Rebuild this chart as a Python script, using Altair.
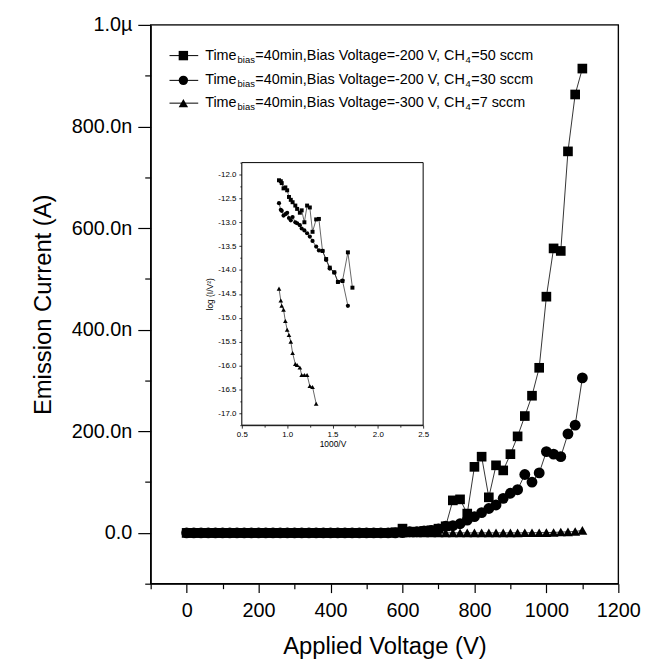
import altair as alt
import pandas as pd

# ---------------- data ----------------
voltage = [0, 20, 40, 60, 80, 100, 120, 140, 160, 180, 200, 220, 240, 260, 280,
           300, 320, 340, 360, 380, 400, 420, 440, 460, 480, 500, 520, 540, 560,
           580, 600, 620, 640, 660, 680, 700, 720, 740, 760, 780, 800, 820, 840,
           860, 880, 900, 920, 940, 960, 980, 1000, 1020, 1040, 1060, 1080, 1100]

# emission current in nA
current_50 = [0, 0, 0, 0, 0, 0, 0, 0, 0, 0, 0, 0, 0, 0, 0, 0, 0, 0, 0, 0, 0, 0, 0, 0, 0, 0, 0, 0, 0,
              1.4, 8.4, 2.3, 2.3, 3.9, 5.2, 8.3, 13, 64, 66, 38, 130, 150, 70, 133, 123, 155,
              190, 230, 270, 325, 465, 560, 555, 751, 863, 914]
current_30 = [0, 0, 0, 0, 0, 0, 0, 0, 0, 0, 0, 0, 0, 0, 0, 0, 0, 0, 0, 0, 0, 0, 0, 0, 0, 0, 0, 0, 0, 0,
              0.64, 2.3, 2.3, 3.9, 5, 8, 13, 14, 18, 25, 32, 40, 48, 55, 68, 78, 85, 115, 100,
              118, 160, 155, 150, 195, 212, 305]
current_7 = [0, 0, 0, 0, 0, 0, 0, 0, 0, 0, 0, 0, 0, 0, 0, 0, 0, 0, 0, 0, 0, 0, 0, 0, 0, 0, 0, 0, 0, 0,
             0, 0, 0, 0, 0, 0, 0, 0,
             0.009, 0.022, 0.024, 0.042, 0.045, 0.047, 0.071, 0.083, 0.091, 0.16, 0.29, 0.42,
             0.56, 0.89, 1.6, 2.0, 2.7, 4.9]

# inset: 1000/V vs log(I/V^2)
inset_50_x = [0.91, 0.93, 0.94, 0.96, 0.98, 1.00, 1.02, 1.04, 1.06, 1.09, 1.11, 1.14, 1.16, 1.19,
              1.22, 1.25, 1.28, 1.32, 1.35, 1.39, 1.43, 1.47, 1.52, 1.56, 1.61, 1.67, 1.72]
inset_50_y = [-12.12, -12.14, -12.18, -12.29, -12.27, -12.33, -12.47, -12.53, -12.58, -12.65,
              -12.72, -12.80, -12.75, -13.00, -12.65, -12.69, -13.20, -12.94, -12.93, -13.60,
              -13.77, -13.95, -14.05, -14.25, -14.23, -13.63, -14.37]
inset_30_x = [0.91, 0.93, 0.94, 0.96, 0.98, 1.00, 1.02, 1.04, 1.06, 1.09, 1.11, 1.14, 1.16, 1.19,
              1.22, 1.25, 1.28, 1.32, 1.35, 1.39, 1.43, 1.47, 1.52, 1.56, 1.61, 1.67]
inset_30_y = [-12.60, -12.74, -12.76, -12.86, -12.83, -12.80, -12.91, -12.96, -12.89, -13.00,
              -13.02, -13.06, -13.13, -13.17, -13.23, -13.30, -13.39, -13.51, -13.59, -13.60,
              -13.79, -13.97, -14.05, -14.25, -14.22, -14.75]
inset_7_x = [0.91, 0.93, 0.94, 0.96, 0.98, 1.00, 1.02, 1.04, 1.06, 1.09, 1.11, 1.14, 1.16, 1.19,
             1.22, 1.25, 1.28, 1.32]
inset_7_y = [-14.39, -14.64, -14.75, -14.83, -15.07, -15.25, -15.36, -15.50, -15.74, -15.97,
             -15.99, -16.04, -16.20, -16.20, -16.20, -16.43, -16.45, -16.80]

series_keys = ["s50", "s30", "s7"]
series_shapes = ["square", "circle", "triangle-up"]
legend_parts = [
    [("Time", 0), ("bias", 1), ("=40min,Bias Voltage=-200 V, CH", 0), ("4", 1), ("=50 sccm", 0)],
    [("Time", 0), ("bias", 1), ("=40min,Bias Voltage=-200 V, CH", 0), ("4", 1), ("=30 sccm", 0)],
    [("Time", 0), ("bias", 1), ("=40min,Bias Voltage=-300 V, CH", 0), ("4", 1), ("=7 sccm", 0)],
]

# ---------------- tables ----------------
main_rows = []
for key, cur in zip(series_keys, [current_50, current_30, current_7]):
    for v, c in zip(voltage, cur):
        main_rows.append({"series": key, "V": v, "I": c})
main_df = pd.DataFrame(main_rows)

inset_rows = []
for key, xs_, ys_ in zip(series_keys, [inset_50_x, inset_30_x, inset_7_x],
                         [inset_50_y, inset_30_y, inset_7_y]):
    for a, b in zip(xs_, ys_):
        inset_rows.append({"series": key, "ix": a, "iy": b})
inset_df = pd.DataFrame(inset_rows)

FONT = "Liberation Sans"
W, H = 472, 564

# ---------------- main plot ----------------
xs = alt.Scale(domain=[-100, 1200], nice=False, zero=False)
ys = alt.Scale(domain=[-100, 1000], nice=False, zero=False)
x_axis = alt.Axis(
    title="Applied Voltage (V)", values=list(range(-100, 1201, 100)),
    labelExpr="datum.value >= 0 && datum.value % 200 == 0 ? format(datum.value, 'd') : ''",
    tickSize={"condition": {"test": "datum.value % 200 == 0", "value": 9}, "value": 5},
    grid=False, domainColor="black", tickColor="black", labelColor="black",
    titleColor="black", labelFont=FONT, titleFont=FONT, labelFontSize=20,
    titleFontSize=24, titleFontWeight="normal", labelPadding=8, titlePadding=14,
    domainWidth=1.2, tickWidth=1.2, labelFlush=False, labelOverlap=False)
y_axis = alt.Axis(
    title="Emission Current (A)", values=list(range(-100, 1001, 100)),
    labelExpr="datum.value == 1000 ? '1.0\u00b5' : datum.value == 0 ? '0.0' : "
              "(datum.value > 0 && datum.value % 200 == 0) ? format(datum.value, '.1f') + 'n' : ''",
    tickSize={"condition": {"test": "datum.value % 200 == 0", "value": 13}, "value": 6},
    grid=False, domainColor="black", tickColor="black", labelColor="black",
    titleColor="black", labelFont=FONT, titleFont=FONT, labelFontSize=20,
    titleFontSize=24, titleFontWeight="normal", labelPadding=6, titlePadding=16,
    domainWidth=1.2, tickWidth=1.2, labelFlush=False, labelOverlap=False)

mx = alt.X("V:Q", scale=xs, axis=x_axis)
my = alt.Y("I:Q", scale=ys, axis=y_axis)
mbase = alt.Chart(main_df)
main_layers = [
    # plot frame (top / right edges) on the data scales
    alt.Chart(pd.DataFrame({"a": [0]})).mark_rect(fill=None, stroke="black", strokeWidth=1.3)
    .encode(x=alt.XDatum(-100, type="quantitative", scale=xs, axis=x_axis), x2=alt.X2Datum(1200),
            y=alt.YDatum(-100, type="quantitative", scale=ys, axis=y_axis), y2=alt.Y2Datum(1000)),
    mbase.mark_line(color="black", strokeWidth=0.8).encode(x=mx, y=my, detail="series:N"),
]
for key, shp, sz in zip(series_keys, series_shapes, [95, 120, 100]):
    main_layers.append(
        mbase.transform_filter(alt.datum.series == key)
        .mark_point(shape=shp, filled=True, color="black", opacity=1, size=sz)
        .encode(x=mx, y=my))
main = alt.layer(*main_layers)

# ---------------- inset ----------------
ixs = alt.Scale(domain=[0.5, 2.5], range=[92, 275], nice=False, zero=False)
iys = alt.Scale(domain=[-17.25, -11.75], range=[404, 139], nice=False, zero=False)
ix_axis = alt.Axis(
    orient="bottom", offset=-160, title="1000/V",
    values=[0.5, 0.75, 1.0, 1.25, 1.5, 1.75, 2.0, 2.25, 2.5],
    labelExpr="abs(datum.value*2 - round(datum.value*2)) < 0.001 ? format(datum.value, '.1f') : ''",
    tickSize={"condition": {"test": "abs(datum.value*2 - round(datum.value*2)) < 0.001", "value": 3}, "value": 2},
    grid=False, domainColor="black", tickColor="black", labelColor="black", titleColor="black",
    labelFont=FONT, titleFont=FONT, labelFontSize=8, titleFontSize=8.5, titleFontWeight="normal",
    labelPadding=2, titlePadding=2, domainWidth=1, tickWidth=0.8, labelFlush=False, labelOverlap=False)
iy_axis = alt.Axis(
    orient="left", offset=-92, title="log (I/V\u00b2)",
    values=[-17.25 + 0.25 * k for k in range(23)],
    labelExpr="(abs(datum.value*2 - round(datum.value*2)) < 0.001 && datum.value <= -11.9 && datum.value >= -17.1) ? "
              "replace(format(datum.value, '.1f'), '\u2212', '-') : ''",
    tickSize={"condition": {"test": "abs(datum.value*2 - round(datum.value*2)) < 0.001", "value": 3}, "value": 2},
    grid=False, domainColor="black", tickColor="black", labelColor="black", titleColor="black",
    labelFont=FONT, titleFont=FONT, labelFontSize=8, titleFontSize=8.5, titleFontWeight="normal",
    labelPadding=3, titlePadding=3, domainWidth=1, tickWidth=0.8, labelFlush=False, labelOverlap=False)

ix = alt.X("ix:Q", scale=ixs, axis=ix_axis)
iy = alt.Y("iy:Q", scale=iys, axis=iy_axis)
ibase = alt.Chart(inset_df)
inset_layers = [
    alt.Chart(pd.DataFrame({"a": [0]})).mark_rect(fill="white", stroke="black", strokeWidth=1)
    .encode(x=alt.XDatum(0.5, type="quantitative", scale=ixs, axis=ix_axis),
            x2=alt.X2Datum(2.5),
            y=alt.YDatum(-17.25, type="quantitative", scale=iys, axis=iy_axis),
            y2=alt.Y2Datum(-11.75)),
    ibase.mark_line(color="black", strokeWidth=0.6).encode(x=ix, y=iy, detail="series:N"),
]
for key, shp, sz in zip(series_keys, series_shapes, [16, 18, 22]):
    inset_layers.append(
        ibase.transform_filter(alt.datum.series == key)
        .mark_point(shape=shp, filled=True, color="black", opacity=1, size=sz)
        .encode(x=ix, y=iy))
inset = alt.layer(*inset_layers)

# ---------------- legend (text pieces, layout positions) ----------------
AW = {' ': 278, '=': 584, '-': 333, ',': 278, '.': 278, 'T': 611, 'i': 222, 'm': 833, 'e': 556,
      'b': 556, 'a': 556, 's': 500, 'n': 556, 'B': 667, 'V': 667, 'o': 556, 'l': 222, 't': 278,
      'g': 556, 'C': 722, 'H': 722, 'c': 500}


def tw(s, fs):
    w = sum(AW.get(ch, 556) for ch in s)
    w -= 55 * s.count("Vo") + 74 * s.count("V,")  # kerning pairs
    return w * fs / 1000.0


LFS, SFS = 14.5, 9.5
text_x0 = 55
row_y = [31, 56, 79]
txt_rows, sym_rows, seg_rows = [], [], []
for r, parts in enumerate(legend_parts):
    xcur = text_x0
    for s, sub in parts:
        fs = SFS if sub else LFS
        txt_rows.append({"t": s, "px": xcur + (0.5 if sub else 0), "py": row_y[r] + (4 if sub else 0), "fs": fs})
        xcur += tw(s, fs) + (1 if sub else 0)
    sym_rows.append({"px": 33, "py": row_y[r], "shape": series_shapes[r]})
    seg_rows.append({"px": 19, "px2": 48, "py": row_y[r]})

leg_text = alt.Chart(pd.DataFrame(txt_rows)).mark_text(
    align="left", baseline="middle", font=FONT, color="black").encode(
    x=alt.X("px:Q", scale=None, axis=None), y=alt.Y("py:Q", scale=None, axis=None),
    size=alt.Size("fs:Q", scale=None, legend=None), text="t:N")
leg_seg = alt.Chart(pd.DataFrame(seg_rows)).mark_rule(color="black", strokeWidth=1).encode(
    x=alt.X("px:Q", scale=None, axis=None), x2="px2:Q", y=alt.Y("py:Q", scale=None, axis=None))
leg_sym = alt.Chart(pd.DataFrame(sym_rows)).mark_point(filled=True, color="black", opacity=1, size=90).encode(
    x=alt.X("px:Q", scale=None, axis=None), y=alt.Y("py:Q", scale=None, axis=None),
    shape=alt.Shape("shape:N", scale=None, legend=None))
legend = alt.layer(leg_seg, leg_sym, leg_text)

chart = alt.layer(main, inset, legend).resolve_scale(
    x="independent", y="independent"
).properties(
    width=W, height=H,
    padding={"left": 144, "top": 14, "right": 36, "bottom": 76},
    autosize=alt.AutoSizeParams(type="none"),
).configure_view(stroke=None).configure(background="white")

chart.save("out.html", embed_options={"renderer": "svg", "actions": False})
